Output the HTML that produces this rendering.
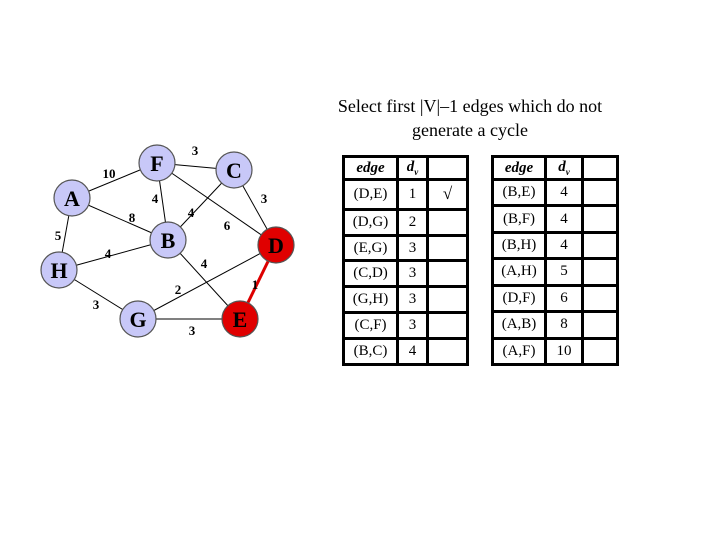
<!DOCTYPE html>
<html><head><meta charset="utf-8"><style>
body{margin:0;background:#fff;width:720px;height:540px;overflow:hidden;position:relative;font-family:"Liberation Serif",serif}
.t{position:absolute;font-size:18px;text-align:center;width:400px;left:270px}
table{position:absolute;border-collapse:collapse;top:155px;height:211px}
td{border:3px solid #000;padding:0;text-align:center;font-size:15px;font-family:"Liberation Serif",serif}
th{border:3px solid #000;height:20px;padding:0;font-style:italic;font-weight:bold;font-size:15px}
</style></head><body>
<div class="t" style="top:96px">Select first |V|–1 edges which do not</div>
<div class="t" style="top:120px">generate a cycle</div>
<svg width="720" height="540" style="position:absolute;left:0;top:0" font-family="Liberation Serif,serif">
<g stroke="#000" stroke-width="1">
<line x1="157" y1="163" x2="234" y2="170"/>
<line x1="72" y1="198" x2="157" y2="163"/>
<line x1="157" y1="163" x2="168" y2="240"/>
<line x1="157" y1="163" x2="276" y2="245"/>
<line x1="72" y1="198" x2="168" y2="240"/>
<line x1="234" y1="170" x2="168" y2="240"/>
<line x1="234" y1="170" x2="276" y2="245"/>
<line x1="72" y1="198" x2="59" y2="270"/>
<line x1="59" y1="270" x2="168" y2="240"/>
<line x1="168" y1="240" x2="240" y2="319"/>
<line x1="59" y1="270" x2="138" y2="319"/>
<line x1="138" y1="319" x2="276" y2="245"/>
<line x1="138" y1="319" x2="240" y2="319"/>
</g>
<line x1="276" y1="245" x2="240" y2="319" stroke="#d00" stroke-width="3"/>
<g stroke="#555" stroke-width="1.2" fill="#c8c8f8">
<circle cx="157" cy="163" r="18"/><circle cx="234" cy="170" r="18"/>
<circle cx="72" cy="198" r="18"/><circle cx="168" cy="240" r="18"/>
<circle cx="59" cy="270" r="18"/><circle cx="138" cy="319" r="18"/>
<circle cx="276" cy="245" r="18" fill="#e00000"/><circle cx="240" cy="319" r="18" fill="#e00000"/>
</g>
<g font-size="22" font-weight="bold" text-anchor="middle">
<text x="157" y="171">F</text><text x="234" y="178">C</text><text x="72" y="206">A</text>
<text x="168" y="248">B</text><text x="59" y="278">H</text><text x="138" y="327">G</text>
<text x="276" y="253">D</text><text x="240" y="327">E</text>
</g>
<g font-size="13" font-weight="bold" text-anchor="middle">
<text x="109" y="178">10</text><text x="195" y="155">3</text><text x="155" y="203">4</text>
<text x="132" y="222">8</text><text x="191" y="217">4</text><text x="264" y="203">3</text>
<text x="227" y="230">6</text><text x="58" y="240">5</text><text x="108" y="258">4</text>
<text x="204" y="268">4</text><text x="255" y="289">1</text><text x="178" y="294">2</text>
<text x="96" y="309">3</text><text x="192" y="335">3</text>
</g>
</svg>
<table style="left:342px;width:127px">
<tr><th style="width:51px">edge</th><th style="width:27px">d<sub style="font-size:9px">v</sub></th><th></th></tr>
<tr><td>(D,E)</td><td>1</td><td style="font-weight:bold;font-size:17px">√</td></tr>
<tr><td>(D,G)</td><td>2</td><td></td></tr>
<tr><td>(E,G)</td><td>3</td><td></td></tr>
<tr><td>(C,D)</td><td>3</td><td></td></tr>
<tr><td>(G,H)</td><td>3</td><td></td></tr>
<tr><td>(C,F)</td><td>3</td><td></td></tr>
<tr><td>(B,C)</td><td>4</td><td></td></tr>
</table>
<table style="left:491px;width:128px">
<tr><th style="width:50px">edge</th><th style="width:34px">d<sub style="font-size:9px">v</sub></th><th></th></tr>
<tr><td>(B,E)</td><td>4</td><td></td></tr>
<tr><td>(B,F)</td><td>4</td><td></td></tr>
<tr><td>(B,H)</td><td>4</td><td></td></tr>
<tr><td>(A,H)</td><td>5</td><td></td></tr>
<tr><td>(D,F)</td><td>6</td><td></td></tr>
<tr><td>(A,B)</td><td>8</td><td></td></tr>
<tr><td>(A,F)</td><td>10</td><td></td></tr>
</table>
</body></html>
